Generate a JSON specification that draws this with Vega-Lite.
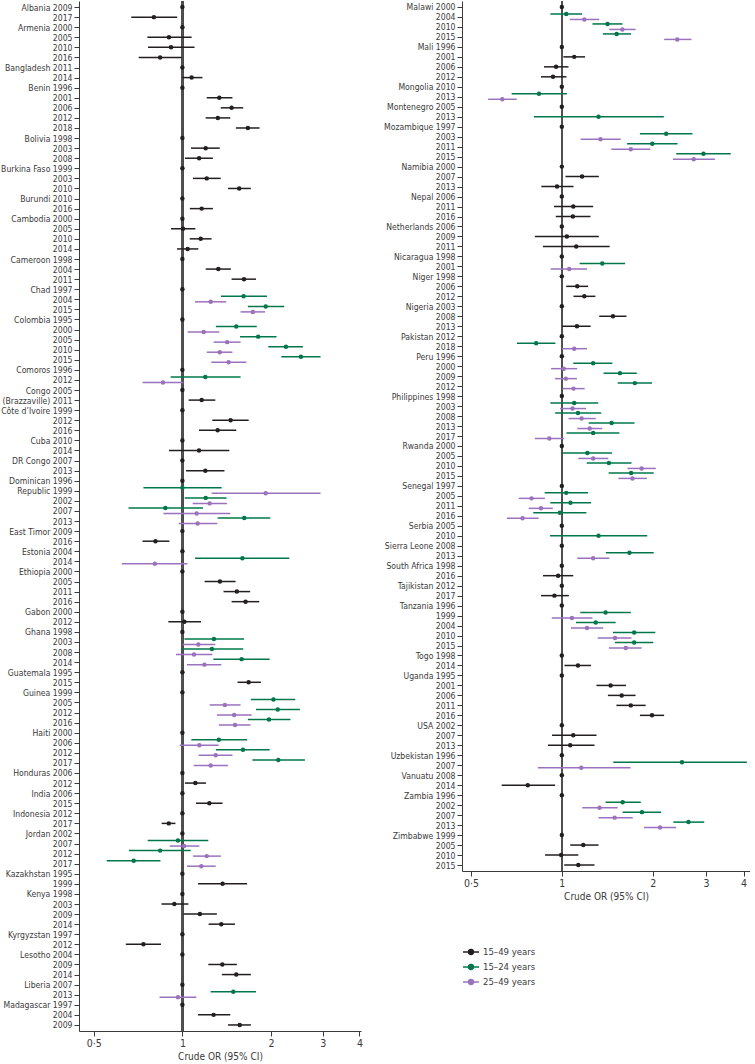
{
  "$schema": "https://vega.github.io/schema/vega-lite/v6.json",
  "padding": 0,
  "autosize": {"type": "pad"},
  "background": "white",
  "config": {
    "view": {"stroke": null},
    "font": "DejaVu Sans Condensed",
    "axis": {"domainColor": "#3a3a3a", "tickColor": "#3a3a3a", "labelColor": "#3a3a3a", "titleColor": "#3a3a3a", "grid": false, "titleFontWeight": "normal", "domainWidth": 1, "tickWidth": 1},
    "legend": {"labelColor": "#3a3a3a"}
  },
  "datasets": {
    "left": [
      {"row": "Albania 2009", "group": "15–49 years", "or": 1},
      {"row": "Albania|2017", "group": "15–49 years", "or": 0.80, "lo": 0.67, "hi": 0.96},
      {"row": "Armenia 2000", "group": "15–49 years", "or": 1},
      {"row": "Armenia|2005", "group": "15–49 years", "or": 0.90, "lo": 0.76, "hi": 1.075},
      {"row": "Armenia|2010", "group": "15–49 years", "or": 0.915, "lo": 0.764, "hi": 1.10},
      {"row": "Armenia|2016", "group": "15–49 years", "or": 0.84, "lo": 0.71, "hi": 0.995},
      {"row": "Bangladesh 2011", "group": "15–49 years", "or": 1},
      {"row": "Bangladesh|2014", "group": "15–49 years", "or": 1.075, "lo": 1.0, "hi": 1.17},
      {"row": "Benin 1996", "group": "15–49 years", "or": 1},
      {"row": "Benin|2001", "group": "15–49 years", "or": 1.335, "lo": 1.21, "hi": 1.48},
      {"row": "Benin|2006", "group": "15–49 years", "or": 1.47, "lo": 1.35, "hi": 1.61},
      {"row": "Benin|2012", "group": "15–49 years", "or": 1.32, "lo": 1.20, "hi": 1.455},
      {"row": "Benin|2018", "group": "15–49 years", "or": 1.67, "lo": 1.52, "hi": 1.83},
      {"row": "Bolivia 1998", "group": "15–49 years", "or": 1},
      {"row": "Bolivia|2003", "group": "15–49 years", "or": 1.20, "lo": 1.07, "hi": 1.34},
      {"row": "Bolivia|2008", "group": "15–49 years", "or": 1.14, "lo": 1.02, "hi": 1.27},
      {"row": "Burkina Faso 1999", "group": "15–49 years", "or": 1},
      {"row": "Burkina Faso|2003", "group": "15–49 years", "or": 1.21, "lo": 1.086, "hi": 1.35},
      {"row": "Burkina Faso|2010", "group": "15–49 years", "or": 1.56, "lo": 1.43, "hi": 1.71},
      {"row": "Burundi 2010", "group": "15–49 years", "or": 1},
      {"row": "Burundi|2016", "group": "15–49 years", "or": 1.163, "lo": 1.06, "hi": 1.27},
      {"row": "Cambodia 2000", "group": "15–49 years", "or": 1},
      {"row": "Cambodia|2005", "group": "15–49 years", "or": 1.005, "lo": 0.915, "hi": 1.107},
      {"row": "Cambodia|2010", "group": "15–49 years", "or": 1.154, "lo": 1.059, "hi": 1.257},
      {"row": "Cambodia|2014", "group": "15–49 years", "or": 1.042, "lo": 0.959, "hi": 1.133},
      {"row": "Cameroon 1998", "group": "15–49 years", "or": 1},
      {"row": "Cameroon|2004", "group": "15–49 years", "or": 1.325, "lo": 1.20, "hi": 1.462},
      {"row": "Cameroon|2011", "group": "15–49 years", "or": 1.62, "lo": 1.47, "hi": 1.78},
      {"row": "Chad 1997", "group": "15–49 years", "or": 1},
      {"row": "Chad|2004", "group": "15–24 years", "or": 1.615, "lo": 1.352, "hi": 1.94},
      {"row": "Chad|2004", "group": "25–49 years", "or": 1.248, "lo": 1.104, "hi": 1.41},
      {"row": "Chad|2015", "group": "15–24 years", "or": 1.92, "lo": 1.67, "hi": 2.22},
      {"row": "Chad|2015", "group": "25–49 years", "or": 1.736, "lo": 1.577, "hi": 1.91},
      {"row": "Colombia 1995", "group": "15–49 years", "or": 1},
      {"row": "Colombia|2000", "group": "15–24 years", "or": 1.525, "lo": 1.30, "hi": 1.79},
      {"row": "Colombia|2000", "group": "25–49 years", "or": 1.181, "lo": 1.042, "hi": 1.335},
      {"row": "Colombia|2005", "group": "15–24 years", "or": 1.81, "lo": 1.57, "hi": 2.09},
      {"row": "Colombia|2005", "group": "25–49 years", "or": 1.42, "lo": 1.277, "hi": 1.577},
      {"row": "Colombia|2010", "group": "15–24 years", "or": 2.25, "lo": 1.96, "hi": 2.57},
      {"row": "Colombia|2010", "group": "25–49 years", "or": 1.34, "lo": 1.21, "hi": 1.48},
      {"row": "Colombia|2015", "group": "15–24 years", "or": 2.53, "lo": 2.17, "hi": 2.95},
      {"row": "Colombia|2015", "group": "25–49 years", "or": 1.436, "lo": 1.254, "hi": 1.65},
      {"row": "Comoros 1996", "group": "15–49 years", "or": 1},
      {"row": "Comoros|2012", "group": "15–24 years", "or": 1.197, "lo": 0.912, "hi": 1.577},
      {"row": "Comoros|2012", "group": "25–49 years", "or": 0.859, "lo": 0.732, "hi": 1.008},
      {"row": "Congo 2005", "group": "15–49 years", "or": 1},
      {"row": "Congo|(Brazzaville) 2011", "group": "15–49 years", "or": 1.163, "lo": 1.05, "hi": 1.294},
      {"row": "Côte d’Ivoire 1999", "group": "15–49 years", "or": 1},
      {"row": "Côte d’Ivoire|2012", "group": "15–49 years", "or": 1.459, "lo": 1.264, "hi": 1.68},
      {"row": "Côte d’Ivoire|2016", "group": "15–49 years", "or": 1.318, "lo": 1.139, "hi": 1.525},
      {"row": "Cuba 2010", "group": "15–49 years", "or": 1},
      {"row": "Cuba|2014", "group": "15–49 years", "or": 1.139, "lo": 0.90, "hi": 1.444},
      {"row": "DR Congo 2007", "group": "15–49 years", "or": 1},
      {"row": "DR Congo|2013", "group": "15–49 years", "or": 1.197, "lo": 1.029, "hi": 1.39},
      {"row": "Dominican 1996", "group": "15–49 years", "or": 1},
      {"row": "Dominican|Republic 1999", "group": "15–24 years", "or": 1.0, "lo": 0.737, "hi": 1.36},
      {"row": "Dominican|Republic 1999", "group": "25–49 years", "or": 1.92, "lo": 1.257, "hi": 2.95},
      {"row": "Dominican|2002", "group": "15–24 years", "or": 1.2, "lo": 1.018, "hi": 1.413},
      {"row": "Dominican|2002", "group": "25–49 years", "or": 1.238, "lo": 1.084, "hi": 1.417},
      {"row": "Dominican|2007", "group": "15–24 years", "or": 0.875, "lo": 0.656, "hi": 1.175},
      {"row": "Dominican|2007", "group": "25–49 years", "or": 1.118, "lo": 0.862, "hi": 1.455},
      {"row": "Dominican|2013", "group": "15–24 years", "or": 1.623, "lo": 1.318, "hi": 1.99},
      {"row": "Dominican|2013", "group": "25–49 years", "or": 1.127, "lo": 0.972, "hi": 1.315},
      {"row": "East Timor 2009", "group": "15–49 years", "or": 1},
      {"row": "East Timor|2016", "group": "15–49 years", "or": 0.81, "lo": 0.732, "hi": 0.903},
      {"row": "Estonia 2004", "group": "15–49 years", "or": 1},
      {"row": "Estonia|2014", "group": "15–24 years", "or": 1.60, "lo": 1.104, "hi": 2.31},
      {"row": "Estonia|2014", "group": "25–49 years", "or": 0.806, "lo": 0.622, "hi": 1.04},
      {"row": "Ethiopia 2000", "group": "15–49 years", "or": 1},
      {"row": "Ethiopia|2005", "group": "15–49 years", "or": 1.342, "lo": 1.19, "hi": 1.517},
      {"row": "Ethiopia|2011", "group": "15–49 years", "or": 1.532, "lo": 1.38, "hi": 1.70},
      {"row": "Ethiopia|2016", "group": "15–49 years", "or": 1.64, "lo": 1.47, "hi": 1.825},
      {"row": "Gabon 2000", "group": "15–49 years", "or": 1},
      {"row": "Gabon|2012", "group": "15–49 years", "or": 1.016, "lo": 0.896, "hi": 1.157},
      {"row": "Ghana 1998", "group": "15–49 years", "or": 1},
      {"row": "Ghana|2003", "group": "15–24 years", "or": 1.28, "lo": 1.016, "hi": 1.62},
      {"row": "Ghana|2003", "group": "25–49 years", "or": 1.133, "lo": 1.0, "hi": 1.294},
      {"row": "Ghana|2008", "group": "15–24 years", "or": 1.26, "lo": 0.989, "hi": 1.61},
      {"row": "Ghana|2008", "group": "25–49 years", "or": 1.095, "lo": 0.951, "hi": 1.264},
      {"row": "Ghana|2014", "group": "15–24 years", "or": 1.59, "lo": 1.274, "hi": 1.98},
      {"row": "Ghana|2014", "group": "25–49 years", "or": 1.188, "lo": 1.037, "hi": 1.356},
      {"row": "Guatemala 1995", "group": "15–49 years", "or": 1},
      {"row": "Guatemala|2015", "group": "15–49 years", "or": 1.68, "lo": 1.54, "hi": 1.85},
      {"row": "Guinea 1999", "group": "15–49 years", "or": 1},
      {"row": "Guinea|2005", "group": "15–24 years", "or": 2.04, "lo": 1.71, "hi": 2.42},
      {"row": "Guinea|2005", "group": "25–49 years", "or": 1.395, "lo": 1.238, "hi": 1.577},
      {"row": "Guinea|2012", "group": "15–24 years", "or": 2.11, "lo": 1.78, "hi": 2.51},
      {"row": "Guinea|2012", "group": "25–49 years", "or": 1.50, "lo": 1.31, "hi": 1.72},
      {"row": "Guinea|2016", "group": "15–24 years", "or": 1.97, "lo": 1.67, "hi": 2.33},
      {"row": "Guinea|2016", "group": "25–49 years", "or": 1.51, "lo": 1.33, "hi": 1.705},
      {"row": "Haiti 2000", "group": "15–49 years", "or": 1},
      {"row": "Haiti|2006", "group": "15–24 years", "or": 1.33, "lo": 1.073, "hi": 1.66},
      {"row": "Haiti|2006", "group": "25–49 years", "or": 1.142, "lo": 0.98, "hi": 1.328},
      {"row": "Haiti|2012", "group": "15–24 years", "or": 1.607, "lo": 1.30, "hi": 1.98},
      {"row": "Haiti|2012", "group": "25–49 years", "or": 1.298, "lo": 1.136, "hi": 1.48},
      {"row": "Haiti|2017", "group": "15–24 years", "or": 2.12, "lo": 1.73, "hi": 2.61},
      {"row": "Haiti|2017", "group": "25–49 years", "or": 1.248, "lo": 1.093, "hi": 1.43},
      {"row": "Honduras 2006", "group": "15–49 years", "or": 1},
      {"row": "Honduras|2012", "group": "15–49 years", "or": 1.107, "lo": 1.02, "hi": 1.203},
      {"row": "India 2006", "group": "15–49 years", "or": 1},
      {"row": "India|2015", "group": "15–49 years", "or": 1.235, "lo": 1.112, "hi": 1.37},
      {"row": "Indonesia 2012", "group": "15–49 years", "or": 1},
      {"row": "Indonesia|2017", "group": "15–49 years", "or": 0.899, "lo": 0.85, "hi": 0.947},
      {"row": "Jordan 2002", "group": "15–49 years", "or": 1},
      {"row": "Jordan|2007", "group": "15–24 years", "or": 0.966, "lo": 0.762, "hi": 1.225},
      {"row": "Jordan|2007", "group": "25–49 years", "or": 1.013, "lo": 0.906, "hi": 1.142},
      {"row": "Jordan|2012", "group": "15–24 years", "or": 0.84, "lo": 0.658, "hi": 1.067},
      {"row": "Jordan|2012", "group": "25–49 years", "or": 1.21, "lo": 1.086, "hi": 1.352},
      {"row": "Jordan|2017", "group": "15–24 years", "or": 0.683, "lo": 0.553, "hi": 0.842},
      {"row": "Jordan|2017", "group": "25–49 years", "or": 1.16, "lo": 1.037, "hi": 1.298},
      {"row": "Kazakhstan 1995", "group": "15–49 years", "or": 1},
      {"row": "Kazakhstan|1999", "group": "15–49 years", "or": 1.37, "lo": 1.13, "hi": 1.66},
      {"row": "Kenya 1998", "group": "15–49 years", "or": 1},
      {"row": "Kenya|2003", "group": "15–49 years", "or": 0.939, "lo": 0.849, "hi": 1.048},
      {"row": "Kenya|2009", "group": "15–49 years", "or": 1.147, "lo": 1.008, "hi": 1.31},
      {"row": "Kenya|2014", "group": "15–49 years", "or": 1.356, "lo": 1.228, "hi": 1.51},
      {"row": "Kyrgyzstan 1997", "group": "15–49 years", "or": 1},
      {"row": "Kyrgyzstan|2012", "group": "15–49 years", "or": 0.737, "lo": 0.642, "hi": 0.846},
      {"row": "Lesotho 2004", "group": "15–49 years", "or": 1},
      {"row": "Lesotho|2009", "group": "15–49 years", "or": 1.367, "lo": 1.225, "hi": 1.532},
      {"row": "Lesotho|2014", "group": "15–49 years", "or": 1.525, "lo": 1.362, "hi": 1.71},
      {"row": "Liberia 2007", "group": "15–49 years", "or": 1},
      {"row": "Liberia|2013", "group": "15–24 years", "or": 1.49, "lo": 1.248, "hi": 1.78},
      {"row": "Liberia|2013", "group": "25–49 years", "or": 0.966, "lo": 0.836, "hi": 1.115},
      {"row": "Madagascar 1997", "group": "15–49 years", "or": 1},
      {"row": "Madagascar|2004", "group": "15–49 years", "or": 1.277, "lo": 1.13, "hi": 1.455},
      {"row": "Madagascar|2009", "group": "15–49 years", "or": 1.567, "lo": 1.43, "hi": 1.71}
    ],
    "right": [
      {"row": "Malawi 2000", "group": "15–49 years", "or": 1},
      {"row": "Malawi|2004", "group": "15–24 years", "or": 1.034, "lo": 0.916, "hi": 1.167},
      {"row": "Malawi|2004", "group": "25–49 years", "or": 1.187, "lo": 1.063, "hi": 1.33},
      {"row": "Malawi|2010", "group": "15–24 years", "or": 1.417, "lo": 1.263, "hi": 1.587},
      {"row": "Malawi|2010", "group": "25–49 years", "or": 1.587, "lo": 1.436, "hi": 1.755},
      {"row": "Malawi|2015", "group": "15–24 years", "or": 1.519, "lo": 1.367, "hi": 1.696},
      {"row": "Malawi|2015", "group": "25–49 years", "or": 2.412, "lo": 2.182, "hi": 2.686},
      {"row": "Mali 1996", "group": "15–49 years", "or": 1},
      {"row": "Mali|2001", "group": "15–49 years", "or": 1.099, "lo": 1.012, "hi": 1.194},
      {"row": "Mali|2006", "group": "15–49 years", "or": 0.957, "lo": 0.873, "hi": 1.052},
      {"row": "Mali|2012", "group": "15–49 years", "or": 0.935, "lo": 0.853, "hi": 1.036},
      {"row": "Mongolia 2010", "group": "15–49 years", "or": 1},
      {"row": "Mongolia|2013", "group": "15–24 years", "or": 0.84, "lo": 0.682, "hi": 1.039},
      {"row": "Mongolia|2013", "group": "25–49 years", "or": 0.635, "lo": 0.57, "hi": 0.709},
      {"row": "Montenegro 2005", "group": "15–49 years", "or": 1},
      {"row": "Montenegro|2013", "group": "15–24 years", "or": 1.323, "lo": 0.808, "hi": 2.177},
      {"row": "Mozambique 1997", "group": "15–49 years", "or": 1},
      {"row": "Mozambique|2003", "group": "15–24 years", "or": 2.216, "lo": 1.814, "hi": 2.707},
      {"row": "Mozambique|2003", "group": "25–49 years", "or": 1.343, "lo": 1.154, "hi": 1.567},
      {"row": "Mozambique|2011", "group": "15–24 years", "or": 1.994, "lo": 1.645, "hi": 2.417},
      {"row": "Mozambique|2011", "group": "25–49 years", "or": 1.692, "lo": 1.458, "hi": 1.963},
      {"row": "Mozambique|2015", "group": "15–24 years", "or": 2.946, "lo": 2.393, "hi": 3.627},
      {"row": "Mozambique|2015", "group": "25–49 years", "or": 2.734, "lo": 2.333, "hi": 3.214},
      {"row": "Namibia 2000", "group": "15–49 years", "or": 1},
      {"row": "Namibia|2007", "group": "15–49 years", "or": 1.167, "lo": 1.028, "hi": 1.326},
      {"row": "Namibia|2013", "group": "15–49 years", "or": 0.964, "lo": 0.855, "hi": 1.093},
      {"row": "Nepal 2006", "group": "15–49 years", "or": 1},
      {"row": "Nepal|2011", "group": "15–49 years", "or": 1.091, "lo": 0.942, "hi": 1.27},
      {"row": "Nepal|2016", "group": "15–49 years", "or": 1.088, "lo": 0.955, "hi": 1.244},
      {"row": "Netherlands 2006", "group": "15–49 years", "or": 1},
      {"row": "Netherlands|2009", "group": "15–49 years", "or": 1.039, "lo": 0.814, "hi": 1.326},
      {"row": "Netherlands|2011", "group": "15–49 years", "or": 1.116, "lo": 0.866, "hi": 1.44},
      {"row": "Nicaragua 1998", "group": "15–49 years", "or": 1},
      {"row": "Nicaragua|2001", "group": "15–24 years", "or": 1.361, "lo": 1.145, "hi": 1.62},
      {"row": "Nicaragua|2001", "group": "25–49 years", "or": 1.058, "lo": 0.919, "hi": 1.212},
      {"row": "Niger 1998", "group": "15–49 years", "or": 1},
      {"row": "Niger|2006", "group": "15–49 years", "or": 1.125, "lo": 1.034, "hi": 1.222},
      {"row": "Niger|2012", "group": "15–49 years", "or": 1.187, "lo": 1.093, "hi": 1.292},
      {"row": "Nigeria 2003", "group": "15–49 years", "or": 1},
      {"row": "Nigeria|2008", "group": "15–49 years", "or": 1.477, "lo": 1.33, "hi": 1.637},
      {"row": "Nigeria|2013", "group": "15–49 years", "or": 1.122, "lo": 1.002, "hi": 1.246},
      {"row": "Pakistan 2012", "group": "15–49 years", "or": 1},
      {"row": "Pakistan|2018", "group": "15–24 years", "or": 0.822, "lo": 0.71, "hi": 0.952},
      {"row": "Pakistan|2018", "group": "25–49 years", "or": 1.099, "lo": 1.0, "hi": 1.212},
      {"row": "Peru 1996", "group": "15–49 years", "or": 1},
      {"row": "Peru|2000", "group": "15–24 years", "or": 1.27, "lo": 1.091, "hi": 1.47},
      {"row": "Peru|2000", "group": "25–49 years", "or": 1.015, "lo": 0.921, "hi": 1.125},
      {"row": "Peru|2009", "group": "15–24 years", "or": 1.558, "lo": 1.374, "hi": 1.772},
      {"row": "Peru|2009", "group": "25–49 years", "or": 1.031, "lo": 0.95, "hi": 1.122},
      {"row": "Peru|2012", "group": "15–24 years", "or": 1.745, "lo": 1.531, "hi": 1.989},
      {"row": "Peru|2012", "group": "25–49 years", "or": 1.093, "lo": 1.005, "hi": 1.19},
      {"row": "Philippines 1998", "group": "15–49 years", "or": 1},
      {"row": "Philippines|2003", "group": "15–24 years", "or": 1.099, "lo": 0.916, "hi": 1.32},
      {"row": "Philippines|2003", "group": "25–49 years", "or": 1.085, "lo": 0.987, "hi": 1.203},
      {"row": "Philippines|2008", "group": "15–24 years", "or": 1.131, "lo": 0.95, "hi": 1.35},
      {"row": "Philippines|2008", "group": "25–49 years", "or": 1.163, "lo": 1.052, "hi": 1.295},
      {"row": "Philippines|2013", "group": "15–24 years", "or": 1.462, "lo": 1.227, "hi": 1.741},
      {"row": "Philippines|2013", "group": "25–49 years", "or": 1.237, "lo": 1.125, "hi": 1.361},
      {"row": "Philippines|2017", "group": "15–24 years", "or": 1.27, "lo": 1.036, "hi": 1.551},
      {"row": "Philippines|2017", "group": "25–49 years", "or": 0.909, "lo": 0.814, "hi": 1.018},
      {"row": "Rwanda 2000", "group": "15–49 years", "or": 1},
      {"row": "Rwanda|2005", "group": "15–24 years", "or": 1.215, "lo": 1.002, "hi": 1.465},
      {"row": "Rwanda|2005", "group": "25–49 years", "or": 1.27, "lo": 1.134, "hi": 1.425},
      {"row": "Rwanda|2010", "group": "15–24 years", "or": 1.432, "lo": 1.209, "hi": 1.701},
      {"row": "Rwanda|2010", "group": "25–49 years", "or": 1.838, "lo": 1.65, "hi": 2.047},
      {"row": "Rwanda|2015", "group": "15–24 years", "or": 1.696, "lo": 1.429, "hi": 2.015},
      {"row": "Rwanda|2015", "group": "25–49 years", "or": 1.714, "lo": 1.539, "hi": 1.914},
      {"row": "Senegal 1997", "group": "15–49 years", "or": 1},
      {"row": "Senegal|2005", "group": "15–24 years", "or": 1.034, "lo": 0.877, "hi": 1.222},
      {"row": "Senegal|2005", "group": "25–49 years", "or": 0.794, "lo": 0.72, "hi": 0.879},
      {"row": "Senegal|2011", "group": "15–24 years", "or": 1.068, "lo": 0.916, "hi": 1.25},
      {"row": "Senegal|2011", "group": "25–49 years", "or": 0.853, "lo": 0.777, "hi": 0.933},
      {"row": "Senegal|2016", "group": "15–24 years", "or": 0.985, "lo": 0.804, "hi": 1.206},
      {"row": "Senegal|2016", "group": "25–49 years", "or": 0.741, "lo": 0.658, "hi": 0.838},
      {"row": "Serbia 2005", "group": "15–49 years", "or": 1},
      {"row": "Serbia|2010", "group": "15–24 years", "or": 1.323, "lo": 0.914, "hi": 1.918},
      {"row": "Sierra Leone 2008", "group": "15–49 years", "or": 1},
      {"row": "Sierra Leone|2013", "group": "15–24 years", "or": 1.675, "lo": 1.399, "hi": 2.015},
      {"row": "Sierra Leone|2013", "group": "25–49 years", "or": 1.27, "lo": 1.125, "hi": 1.436},
      {"row": "South Africa 1998", "group": "15–49 years", "or": 1},
      {"row": "South Africa|2016", "group": "15–49 years", "or": 0.972, "lo": 0.866, "hi": 1.091},
      {"row": "Tajikistan 2012", "group": "15–49 years", "or": 1},
      {"row": "Tajikistan|2017", "group": "15–49 years", "or": 0.945, "lo": 0.853, "hi": 1.055},
      {"row": "Tanzania 1996", "group": "15–49 years", "or": 1},
      {"row": "Tanzania|1999", "group": "15–24 years", "or": 1.396, "lo": 1.151, "hi": 1.692},
      {"row": "Tanzania|1999", "group": "25–49 years", "or": 1.08, "lo": 0.926, "hi": 1.263},
      {"row": "Tanzania|2004", "group": "15–24 years", "or": 1.295, "lo": 1.114, "hi": 1.508},
      {"row": "Tanzania|2004", "group": "25–49 years", "or": 1.212, "lo": 1.072, "hi": 1.371},
      {"row": "Tanzania|2010", "group": "15–24 years", "or": 1.736, "lo": 1.477, "hi": 2.04},
      {"row": "Tanzania|2010", "group": "25–49 years", "or": 1.5, "lo": 1.315, "hi": 1.701},
      {"row": "Tanzania|2015", "group": "15–24 years", "or": 1.736, "lo": 1.5, "hi": 2.009},
      {"row": "Tanzania|2015", "group": "25–49 years", "or": 1.628, "lo": 1.432, "hi": 1.838},
      {"row": "Togo 1998", "group": "15–49 years", "or": 1},
      {"row": "Togo|2014", "group": "15–49 years", "or": 1.131, "lo": 1.02, "hi": 1.25},
      {"row": "Uganda 1995", "group": "15–49 years", "or": 1},
      {"row": "Uganda|2001", "group": "15–49 years", "or": 1.451, "lo": 1.302, "hi": 1.632},
      {"row": "Uganda|2006", "group": "15–49 years", "or": 1.579, "lo": 1.421, "hi": 1.755},
      {"row": "Uganda|2011", "group": "15–49 years", "or": 1.692, "lo": 1.516, "hi": 1.895},
      {"row": "Uganda|2016", "group": "15–49 years", "or": 1.989, "lo": 1.814, "hi": 2.182},
      {"row": "USA 2002", "group": "15–49 years", "or": 1},
      {"row": "USA|2007", "group": "15–49 years", "or": 1.091, "lo": 0.928, "hi": 1.303},
      {"row": "USA|2013", "group": "15–49 years", "or": 1.066, "lo": 0.9, "hi": 1.283},
      {"row": "Uzbekistan 1996", "group": "15–49 years", "or": 1},
      {"row": "Uzbekistan|2007", "group": "15–24 years", "or": 2.5, "lo": 1.48, "hi": 4.1},
      {"row": "Uzbekistan|2007", "group": "25–49 years", "or": 1.16, "lo": 0.833, "hi": 1.69},
      {"row": "Vanuatu 2008", "group": "15–49 years", "or": 1},
      {"row": "Vanuatu|2014", "group": "15–49 years", "or": 0.771, "lo": 0.632, "hi": 0.95},
      {"row": "Zambia 1996", "group": "15–49 years", "or": 1},
      {"row": "Zambia|2002", "group": "15–24 years", "or": 1.59, "lo": 1.396, "hi": 1.826},
      {"row": "Zambia|2002", "group": "25–49 years", "or": 1.333, "lo": 1.169, "hi": 1.53},
      {"row": "Zambia|2007", "group": "15–24 years", "or": 1.842, "lo": 1.59, "hi": 2.131},
      {"row": "Zambia|2007", "group": "25–49 years", "or": 1.496, "lo": 1.323, "hi": 1.718},
      {"row": "Zambia|2013", "group": "15–24 years", "or": 2.627, "lo": 2.34, "hi": 2.963},
      {"row": "Zambia|2013", "group": "25–49 years", "or": 2.115, "lo": 1.871, "hi": 2.393},
      {"row": "Zimbabwe 1999", "group": "15–49 years", "or": 1},
      {"row": "Zimbabwe|2005", "group": "15–49 years", "or": 1.178, "lo": 1.066, "hi": 1.323},
      {"row": "Zimbabwe|2010", "group": "15–49 years", "or": 0.995, "lo": 0.88, "hi": 1.134},
      {"row": "Zimbabwe|2015", "group": "15–49 years", "or": 1.134, "lo": 1.018, "hi": 1.283}
    ]
  },
  "spacing": 101,
  "bounds": "flush",
  "resolve": {"scale": {"fill": "shared", "stroke": "shared"}, "legend": {"fill": "shared", "stroke": "shared"}},
  "hconcat": [
    {
      "width": 282,
      "height": 1030,
      "data": {"name": "left"},
      "layer": [
        {"mark": {"type": "rule", "color": "#505050", "strokeWidth": 1.3}, "encoding": {"x": {"datum": 1, "type": "quantitative", "scale": {"type": "log", "domain": [0.445, 4.05], "nice": false}, "axis": {"values": [0.5, 1, 2, 3, 4], "labelExpr": "datum.value == 0.5 ? '0·5' : format(datum.value, 'd')", "title": "Crude OR (95% CI)", "tickSize": 5, "labelPadding": 2, "labelFontSize": 10.5, "titleFontSize": 10, "titlePadding": 3, "labelFlush": false}}}},
        {
          "encoding": {"y": {"field": "row", "type": "ordinal", "scale": {"type": "point", "padding": 0.6, "domain": ["Albania 2009","Albania|2017","Armenia 2000","Armenia|2005","Armenia|2010","Armenia|2016","Bangladesh 2011","Bangladesh|2014","Benin 1996","Benin|2001","Benin|2006","Benin|2012","Benin|2018","Bolivia 1998","Bolivia|2003","Bolivia|2008","Burkina Faso 1999","Burkina Faso|2003","Burkina Faso|2010","Burundi 2010","Burundi|2016","Cambodia 2000","Cambodia|2005","Cambodia|2010","Cambodia|2014","Cameroon 1998","Cameroon|2004","Cameroon|2011","Chad 1997","Chad|2004","Chad|2015","Colombia 1995","Colombia|2000","Colombia|2005","Colombia|2010","Colombia|2015","Comoros 1996","Comoros|2012","Congo 2005","Congo|(Brazzaville) 2011","Côte d’Ivoire 1999","Côte d’Ivoire|2012","Côte d’Ivoire|2016","Cuba 2010","Cuba|2014","DR Congo 2007","DR Congo|2013","Dominican 1996","Dominican|Republic 1999","Dominican|2002","Dominican|2007","Dominican|2013","East Timor 2009","East Timor|2016","Estonia 2004","Estonia|2014","Ethiopia 2000","Ethiopia|2005","Ethiopia|2011","Ethiopia|2016","Gabon 2000","Gabon|2012","Ghana 1998","Ghana|2003","Ghana|2008","Ghana|2014","Guatemala 1995","Guatemala|2015","Guinea 1999","Guinea|2005","Guinea|2012","Guinea|2016","Haiti 2000","Haiti|2006","Haiti|2012","Haiti|2017","Honduras 2006","Honduras|2012","India 2006","India|2015","Indonesia 2012","Indonesia|2017","Jordan 2002","Jordan|2007","Jordan|2012","Jordan|2017","Kazakhstan 1995","Kazakhstan|1999","Kenya 1998","Kenya|2003","Kenya|2009","Kenya|2014","Kyrgyzstan 1997","Kyrgyzstan|2012","Lesotho 2004","Lesotho|2009","Lesotho|2014","Liberia 2007","Liberia|2013","Madagascar 1997","Madagascar|2004","Madagascar|2009"]}, "axis": {"title": null, "tickSize": 5, "labelPadding": 2, "labelFontSize": 8.6, "labelOverlap": false, "labelLimit": 200, "labelExpr": "indexof(datum.value, '|') >= 0 ? split(datum.value, '|')[1] : datum.value"}}},
          "layer": [
            {"transform": [{"filter": "datum.group === '15–49 years'"}], "layer": [
              {"mark": {"type": "rule", "strokeWidth": 1.5}, "encoding": {"x": {"field": "lo", "type": "quantitative", "scale": {"type": "log", "domain": [0.445, 4.05], "nice": false}}, "x2": {"field": "hi"}, "stroke": {"field": "group", "type": "nominal", "scale": {"domain": ["15–49 years", "15–24 years", "25–49 years"], "range": ["#231f20", "#00774a", "#9a72bd"]}, "legend": {"title": null, "orient": "none", "legendX": 383, "legendY": 942, "symbolType": "M-1,0H1M-0.3,0A0.3,0.3,0,1,1,0.3,0A0.3,0.3,0,1,1,-0.3,0Z", "symbolSize": 256, "symbolStrokeWidth": 1.5, "labelFontSize": 9.5, "rowPadding": 0, "labelOffset": 3}}}},
              {"mark": {"type": "point", "filled": true, "size": 20, "opacity": 1}, "encoding": {"x": {"field": "or", "type": "quantitative", "scale": {"type": "log", "domain": [0.445, 4.05], "nice": false}}, "fill": {"field": "group", "type": "nominal", "scale": {"domain": ["15–49 years", "15–24 years", "25–49 years"], "range": ["#231f20", "#00774a", "#9a72bd"]}, "legend": {"title": null, "orient": "none", "legendX": 383, "legendY": 942, "symbolType": "M-1,0H1M-0.3,0A0.3,0.3,0,1,1,0.3,0A0.3,0.3,0,1,1,-0.3,0Z", "symbolSize": 256, "symbolStrokeWidth": 1.5, "labelFontSize": 9.5, "rowPadding": 0, "labelOffset": 3}}}}
            ]},
            {"transform": [{"filter": "datum.group === '15–24 years'"}], "layer": [
              {"mark": {"type": "rule", "strokeWidth": 1.5, "yOffset": -3}, "encoding": {"x": {"field": "lo", "type": "quantitative", "scale": {"type": "log", "domain": [0.445, 4.05], "nice": false}}, "x2": {"field": "hi"}, "stroke": {"field": "group", "type": "nominal"}}},
              {"mark": {"type": "point", "filled": true, "size": 20, "opacity": 1, "yOffset": -3}, "encoding": {"x": {"field": "or", "type": "quantitative", "scale": {"type": "log", "domain": [0.445, 4.05], "nice": false}}, "fill": {"field": "group", "type": "nominal"}}}
            ]},
            {"transform": [{"filter": "datum.group === '25–49 years'"}], "layer": [
              {"mark": {"type": "rule", "strokeWidth": 1.5, "yOffset": 2.5}, "encoding": {"x": {"field": "lo", "type": "quantitative", "scale": {"type": "log", "domain": [0.445, 4.05], "nice": false}}, "x2": {"field": "hi"}, "stroke": {"field": "group", "type": "nominal"}}},
              {"mark": {"type": "point", "filled": true, "size": 20, "opacity": 1, "yOffset": 2.5}, "encoding": {"x": {"field": "or", "type": "quantitative", "scale": {"type": "log", "domain": [0.445, 4.05], "nice": false}}, "fill": {"field": "group", "type": "nominal"}}}
            ]}
          ]
        }
      ]
    },
    {
      "width": 288,
      "height": 870,
      "data": {"name": "right"},
      "layer": [
        {"mark": {"type": "rule", "color": "#505050", "strokeWidth": 1.3}, "encoding": {"x": {"datum": 1, "type": "quantitative", "scale": {"type": "log", "domain": [0.467, 4.2], "nice": false}, "axis": {"values": [0.5, 1, 2, 3, 4], "labelExpr": "datum.value == 0.5 ? '0·5' : format(datum.value, 'd')", "title": "Crude OR (95% CI)", "tickSize": 5, "labelPadding": 2, "labelFontSize": 10.5, "titleFontSize": 10, "titlePadding": 3, "labelFlush": false}}}},
        {
          "encoding": {"y": {"field": "row", "type": "ordinal", "scale": {"type": "point", "padding": 0.6, "domain": ["Malawi 2000","Malawi|2004","Malawi|2010","Malawi|2015","Mali 1996","Mali|2001","Mali|2006","Mali|2012","Mongolia 2010","Mongolia|2013","Montenegro 2005","Montenegro|2013","Mozambique 1997","Mozambique|2003","Mozambique|2011","Mozambique|2015","Namibia 2000","Namibia|2007","Namibia|2013","Nepal 2006","Nepal|2011","Nepal|2016","Netherlands 2006","Netherlands|2009","Netherlands|2011","Nicaragua 1998","Nicaragua|2001","Niger 1998","Niger|2006","Niger|2012","Nigeria 2003","Nigeria|2008","Nigeria|2013","Pakistan 2012","Pakistan|2018","Peru 1996","Peru|2000","Peru|2009","Peru|2012","Philippines 1998","Philippines|2003","Philippines|2008","Philippines|2013","Philippines|2017","Rwanda 2000","Rwanda|2005","Rwanda|2010","Rwanda|2015","Senegal 1997","Senegal|2005","Senegal|2011","Senegal|2016","Serbia 2005","Serbia|2010","Sierra Leone 2008","Sierra Leone|2013","South Africa 1998","South Africa|2016","Tajikistan 2012","Tajikistan|2017","Tanzania 1996","Tanzania|1999","Tanzania|2004","Tanzania|2010","Tanzania|2015","Togo 1998","Togo|2014","Uganda 1995","Uganda|2001","Uganda|2006","Uganda|2011","Uganda|2016","USA 2002","USA|2007","USA|2013","Uzbekistan 1996","Uzbekistan|2007","Vanuatu 2008","Vanuatu|2014","Zambia 1996","Zambia|2002","Zambia|2007","Zambia|2013","Zimbabwe 1999","Zimbabwe|2005","Zimbabwe|2010","Zimbabwe|2015"]}, "axis": {"title": null, "tickSize": 5, "labelPadding": 2, "labelFontSize": 8.6, "labelOverlap": false, "labelLimit": 200, "labelExpr": "indexof(datum.value, '|') >= 0 ? split(datum.value, '|')[1] : datum.value"}}},
          "layer": [
            {"transform": [{"filter": "datum.group === '15–49 years'"}], "layer": [
              {"mark": {"type": "rule", "strokeWidth": 1.5}, "encoding": {"x": {"field": "lo", "type": "quantitative", "scale": {"type": "log", "domain": [0.467, 4.2], "nice": false}}, "x2": {"field": "hi"}, "stroke": {"field": "group", "type": "nominal", "scale": {"domain": ["15–49 years", "15–24 years", "25–49 years"], "range": ["#231f20", "#00774a", "#9a72bd"]}}}},
              {"mark": {"type": "point", "filled": true, "size": 20, "opacity": 1}, "encoding": {"x": {"field": "or", "type": "quantitative", "scale": {"type": "log", "domain": [0.467, 4.2], "nice": false}}, "fill": {"field": "group", "type": "nominal", "scale": {"domain": ["15–49 years", "15–24 years", "25–49 years"], "range": ["#231f20", "#00774a", "#9a72bd"]}}}}
            ]},
            {"transform": [{"filter": "datum.group === '15–24 years' && datum.row !== 'Montenegro|2013' && datum.row !== 'Serbia|2010'"}], "layer": [
              {"mark": {"type": "rule", "strokeWidth": 1.5, "yOffset": -3}, "encoding": {"x": {"field": "lo", "type": "quantitative", "scale": {"type": "log", "domain": [0.467, 4.2], "nice": false}}, "x2": {"field": "hi"}, "stroke": {"field": "group", "type": "nominal"}}},
              {"mark": {"type": "point", "filled": true, "size": 20, "opacity": 1, "yOffset": -3}, "encoding": {"x": {"field": "or", "type": "quantitative", "scale": {"type": "log", "domain": [0.467, 4.2], "nice": false}}, "fill": {"field": "group", "type": "nominal"}}}
            ]},
            {"transform": [{"filter": "datum.row === 'Montenegro|2013' || datum.row === 'Serbia|2010'"}], "layer": [
              {"mark": {"type": "rule", "strokeWidth": 1.5}, "encoding": {"x": {"field": "lo", "type": "quantitative", "scale": {"type": "log", "domain": [0.467, 4.2], "nice": false}}, "x2": {"field": "hi"}, "stroke": {"field": "group", "type": "nominal"}}},
              {"mark": {"type": "point", "filled": true, "size": 20, "opacity": 1}, "encoding": {"x": {"field": "or", "type": "quantitative", "scale": {"type": "log", "domain": [0.467, 4.2], "nice": false}}, "fill": {"field": "group", "type": "nominal"}}}
            ]},
            {"transform": [{"filter": "datum.group === '25–49 years'"}], "layer": [
              {"mark": {"type": "rule", "strokeWidth": 1.5, "yOffset": 2.5}, "encoding": {"x": {"field": "lo", "type": "quantitative", "scale": {"type": "log", "domain": [0.467, 4.2], "nice": false}}, "x2": {"field": "hi"}, "stroke": {"field": "group", "type": "nominal"}}},
              {"mark": {"type": "point", "filled": true, "size": 20, "opacity": 1, "yOffset": 2.5}, "encoding": {"x": {"field": "or", "type": "quantitative", "scale": {"type": "log", "domain": [0.467, 4.2], "nice": false}}, "fill": {"field": "group", "type": "nominal"}}}
            ]}
          ]
        }
      ]
    }
  ]
}
